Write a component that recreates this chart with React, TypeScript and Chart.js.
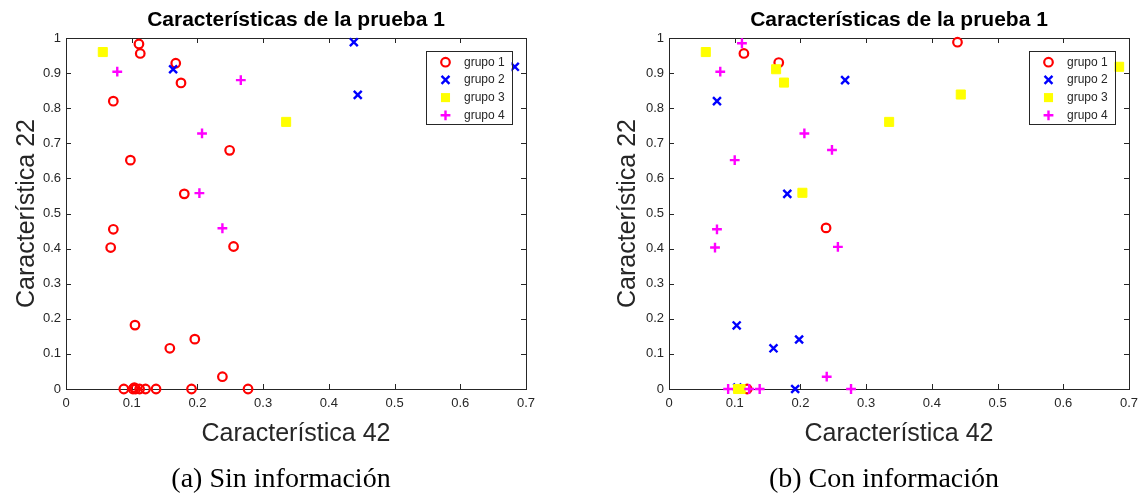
import React, { useEffect, useRef } from 'react';
import { Chart, registerables } from 'chart.js';

Chart.register(...registerables);

// ---------- text ----------
const chartTitle = 'Características de la prueba 1';
const xAxisTitle = 'Característica 42';
const yAxisTitle = 'Característica 22';
const groupNames = ['grupo 1', 'grupo 2', 'grupo 3', 'grupo 4'];
const captionA = '(a) Sin información';
const captionB = '(b) Con información';

// ---------- ticks ----------
const xTickValues = [0, 0.1, 0.2, 0.3, 0.4, 0.5, 0.6, 0.7];
const xTickLabels = ['0', '0.1', '0.2', '0.3', '0.4', '0.5', '0.6', '0.7'];
const yTickValues = [0, 0.1, 0.2, 0.3, 0.4, 0.5, 0.6, 0.7, 0.8, 0.9, 1];
const yTickLabels = ['0', '0.1', '0.2', '0.3', '0.4', '0.5', '0.6', '0.7', '0.8', '0.9', '1'];

// ---------- (a) Sin información : [x, y] ----------
const aGrupo1 = [
  [0.111, 0.983], [0.113, 0.956], [0.167, 0.928], [0.175, 0.872], [0.072, 0.820],
  [0.249, 0.680], [0.098, 0.652], [0.180, 0.556], [0.072, 0.455], [0.068, 0.403],
  [0.255, 0.406], [0.105, 0.182], [0.158, 0.116], [0.196, 0.142], [0.238, 0.035],
  [0.088, 0], [0.102, 0], [0.104, 0.004], [0.106, 0], [0.112, 0], [0.121, 0],
  [0.137, 0], [0.191, 0], [0.277, 0],
];
const aGrupo2 = [[0.163, 0.911], [0.438, 0.988], [0.444, 0.838], [0.683, 0.918]];
const aGrupo3 = [[0.056, 0.960], [0.335, 0.761]];
const aGrupo4 = [[0.078, 0.904], [0.266, 0.880], [0.207, 0.728], [0.203, 0.558], [0.238, 0.458]];

// ---------- (b) Con información : [x, y] ----------
const bGrupo1 = [[0.114, 0.956], [0.167, 0.930], [0.239, 0.459], [0.439, 0.988], [0.119, 0]];
const bGrupo2 = [
  [0.268, 0.880], [0.073, 0.820], [0.180, 0.556], [0.103, 0.181], [0.159, 0.116],
  [0.198, 0.141], [0.192, 0], [0.104, 0.004],
];
const bGrupo3 = [
  [0.056, 0.960], [0.163, 0.911], [0.175, 0.873], [0.335, 0.761], [0.203, 0.559],
  [0.444, 0.839], [0.685, 0.918], [0.105, 0], [0.109, 0],
];
const bGrupo4 = [
  [0.111, 0.985], [0.078, 0.904], [0.206, 0.728], [0.248, 0.681], [0.100, 0.652],
  [0.073, 0.455], [0.070, 0.403], [0.257, 0.405], [0.240, 0.035], [0.090, 0],
  [0.122, 0], [0.138, 0], [0.277, 0],
];

// ---------- styles ----------
const AXIS_COLOR = '#262626';
const FONT = '"Liberation Sans", Arial, Helvetica, sans-serif';
const groupStyles = [
  { pointStyle: 'circle', color: '#ff0000', radius: 4.3, borderWidth: 2.2, filled: false },
  { pointStyle: 'crossRot', color: '#0000ff', radius: 5.6, borderWidth: 2.4, filled: false },
  { pointStyle: 'rect', color: '#ffff00', radius: 6.4, borderWidth: 1, filled: true },
  { pointStyle: 'cross', color: '#ff00ff', radius: 4.9, borderWidth: 2.4, filled: false },
];

function drawMarker(ctx: CanvasRenderingContext2D, st: any, x: number, y: number) {
  ctx.save();
  ctx.strokeStyle = st.color;
  ctx.fillStyle = st.color;
  ctx.lineWidth = st.borderWidth;
  const r = st.radius;
  ctx.beginPath();
  if (st.pointStyle === 'circle') {
    ctx.arc(x, y, r, 0, Math.PI * 2);
    ctx.stroke();
  } else if (st.pointStyle === 'rect') {
    const s = r / Math.SQRT2;
    ctx.fillRect(x - s, y - s, 2 * s, 2 * s);
  } else if (st.pointStyle === 'cross') {
    ctx.moveTo(x - r, y); ctx.lineTo(x + r, y);
    ctx.moveTo(x, y - r); ctx.lineTo(x, y + r);
    ctx.stroke();
  } else if (st.pointStyle === 'crossRot') {
    const d = r * Math.cos(Math.PI / 4);
    ctx.moveTo(x - d, y - d); ctx.lineTo(x + d, y + d);
    ctx.moveTo(x - d, y + d); ctx.lineTo(x + d, y - d);
    ctx.stroke();
  }
  ctx.restore();
}

const boxPlugin = {
  id: 'matlabBox',
  beforeDatasetsDraw(chart: any) {
    const { ctx, chartArea } = chart;
    const { left, top, right, bottom } = chartArea;
    const xs = chart.scales.x;
    const ys = chart.scales.y;
    ctx.save();
    ctx.strokeStyle = AXIS_COLOR;
    ctx.lineWidth = 1;
    ctx.strokeRect(left + 0.5, top + 0.5, right - left, bottom - top);
    const tl = 5;
    ctx.beginPath();
    xTickValues.forEach((v) => {
      const px = Math.round(xs.getPixelForValue(v)) + 0.5;
      ctx.moveTo(px, bottom); ctx.lineTo(px, bottom - tl);
      ctx.moveTo(px, top); ctx.lineTo(px, top + tl);
    });
    yTickValues.forEach((v) => {
      const py = Math.round(ys.getPixelForValue(v)) + 0.5;
      ctx.moveTo(left, py); ctx.lineTo(left + tl, py);
      ctx.moveTo(right, py); ctx.lineTo(right - tl, py);
    });
    ctx.stroke();
    ctx.restore();
  },
};

const legendPlugin = {
  id: 'matlabLegend',
  afterDatasetsDraw(chart: any) {
    const { ctx, chartArea } = chart;
    const w = 86;
    const h = 73;
    const bx = chartArea.right - 14.5 - w;
    const by = chartArea.top + 12.7;
    ctx.save();
    ctx.fillStyle = '#ffffff';
    ctx.fillRect(bx, by, w, h);
    ctx.strokeStyle = AXIS_COLOR;
    ctx.lineWidth = 1;
    ctx.strokeRect(Math.round(bx) + 0.5, Math.round(by) + 0.5, w, h);
    ctx.font = `12px ${FONT}`;
    ctx.textBaseline = 'middle';
    ctx.textAlign = 'left';
    groupNames.forEach((name, i) => {
      const cy = by + 11.5 + i * 17.7;
      drawMarker(ctx, groupStyles[i], bx + 20, cy);
      ctx.fillStyle = AXIS_COLOR;
      ctx.fillText(name, bx + 38.5, cy);
    });
    ctx.restore();
  },
};

function toPoints(arr: number[][]) {
  return arr.map(([x, y]) => ({ x, y }));
}

type PanelProps = {
  groups: number[][][];
  yAxisWidth: number;
  yTitlePad: number;
  padRight: number;
  width: number;
};

function Panel({ groups, yAxisWidth, yTitlePad, padRight, width }: PanelProps) {
  const ref = useRef<HTMLCanvasElement>(null);
  useEffect(() => {
    if (!ref.current) return;
    const datasets = groups.map((g, i) => {
      const st = groupStyles[i];
      return {
        label: groupNames[i],
        data: toPoints(g),
        pointStyle: st.pointStyle,
        pointRadius: st.radius,
        pointHoverRadius: st.radius,
        pointBorderWidth: st.borderWidth,
        pointBorderColor: st.color,
        pointBackgroundColor: st.filled ? st.color : 'rgba(0,0,0,0)',
        borderColor: st.color,
        backgroundColor: st.filled ? st.color : 'rgba(0,0,0,0)',
        showLine: false,
        clip: false,
        order: 4 - i,
      };
    });
    const chart = new Chart(ref.current, {
      type: 'scatter',
      data: { datasets },
      options: {
        animation: false,
        responsive: false,
        events: [],
        layout: { padding: { left: 0, right: padRight, top: 0, bottom: 44 } },
        plugins: {
          legend: { display: false },
          tooltip: { enabled: false },
          title: {
            display: true,
            text: chartTitle,
            fullSize: false,
            color: '#000000',
            font: { family: FONT, size: 21, weight: 'bold' },
            padding: { top: 7.4, bottom: 5.4 },
          },
        },
        scales: {
          x: {
            type: 'linear',
            position: 'bottom',
            min: 0,
            max: 0.7,
            afterBuildTicks: (s: any) => {
              s.ticks = xTickValues.map((v) => ({ value: v }));
            },
            afterFit: (s: any) => {
              s.height = 62;
            },
            ticks: {
              autoSkip: false,
              maxRotation: 0,
              padding: 7,
              color: AXIS_COLOR,
              font: { family: FONT, size: 13 },
              callback: (v: any) => {
                const i = xTickValues.findIndex((t) => Math.abs(t - v) < 1e-9);
                return i >= 0 ? xTickLabels[i] : '';
              },
            },
            grid: { display: false, drawTicks: false },
            border: { display: false },
            title: {
              display: true,
              text: xAxisTitle,
              color: AXIS_COLOR,
              font: { family: FONT, size: 25 },
              padding: { top: 0, bottom: 1.5 },
            },
          },
          y: {
            type: 'linear',
            position: 'left',
            min: 0,
            max: 1,
            afterBuildTicks: (s: any) => {
              s.ticks = yTickValues.map((v) => ({ value: v }));
            },
            afterFit: (s: any) => {
              s.width = yAxisWidth;
            },
            ticks: {
              autoSkip: false,
              padding: 5,
              color: AXIS_COLOR,
              font: { family: FONT, size: 13 },
              callback: (v: any) => {
                const i = yTickValues.findIndex((t) => Math.abs(t - v) < 1e-9);
                return i >= 0 ? yTickLabels[i] : '';
              },
            },
            grid: { display: false, drawTicks: false },
            border: { display: false },
            title: {
              display: true,
              text: yAxisTitle,
              color: AXIS_COLOR,
              font: { family: FONT, size: 25 },
              padding: { top: yTitlePad, bottom: 0 },
            },
          },
        },
      } as any,
      plugins: [boxPlugin, legendPlugin],
    });
    return () => chart.destroy();
  }, []);
  return <canvas ref={ref} width={width} height={495} style={{ display: 'block' }} />;
}

const captionStyle: React.CSSProperties = {
  position: 'absolute',
  top: 478,
  transform: 'translate(-50%, -50%)',
  fontFamily: '"Liberation Serif", "Times New Roman", serif',
  fontSize: 28,
  color: '#000',
  whiteSpace: 'nowrap',
  lineHeight: 1,
};

export default function App() {
  return (
    <div
      style={{
        position: 'absolute',
        left: 0,
        top: 0,
        width: 1138,
        height: 495,
        overflow: 'hidden',
        background: '#ffffff',
      }}
    >
      <div style={{ position: 'absolute', left: 0, top: 0 }}>
        <Panel groups={[aGrupo1, aGrupo2, aGrupo3, aGrupo4]} yAxisWidth={66} yTitlePad={12.5} padRight={43} width={569} />
      </div>
      <div style={{ position: 'absolute', left: 569, top: 0 }}>
        <Panel groups={[bGrupo1, bGrupo2, bGrupo3, bGrupo4]} yAxisWidth={100} yTitlePad={44.5} padRight={24} width={584} />
      </div>
      <div style={{ ...captionStyle, left: 281 }}>{captionA}</div>
      <div style={{ ...captionStyle, left: 884 }}>{captionB}</div>
    </div>
  );
}
